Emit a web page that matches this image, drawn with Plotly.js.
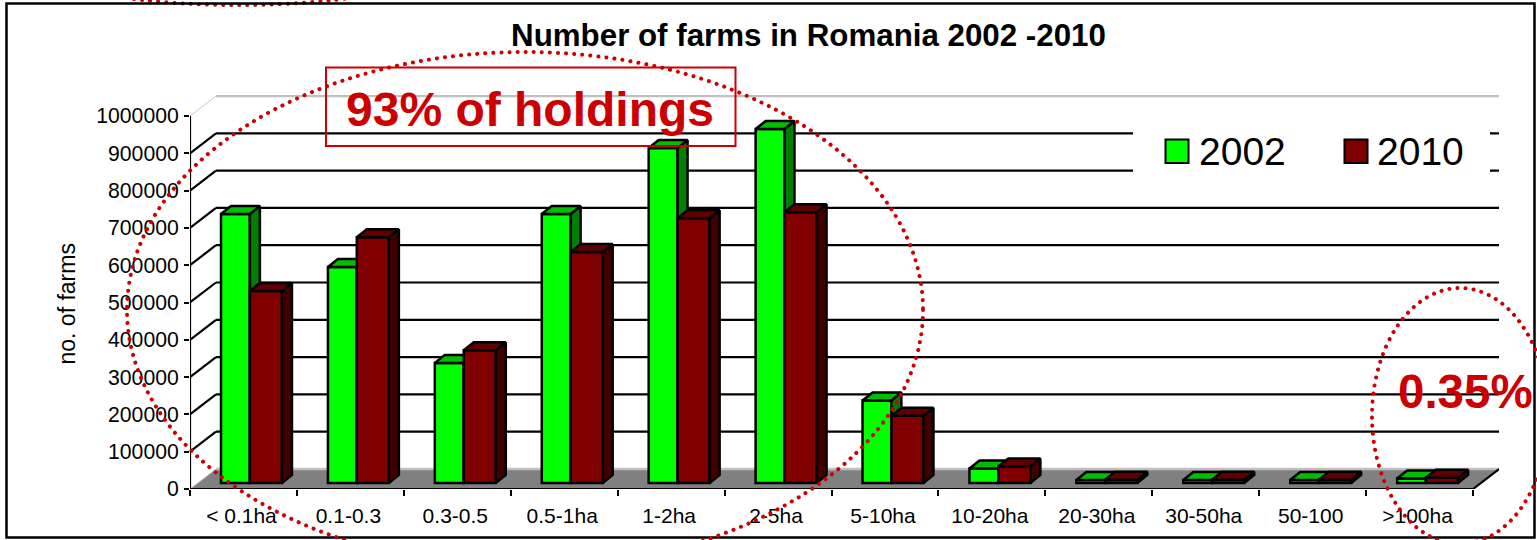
<!DOCTYPE html>
<html>
<head>
<meta charset="utf-8">
<script src="https://cdn.plot.ly/plotly-3.0.1.min.js"></script>
<style>html,body{margin:0;padding:0;background:#fff;overflow:hidden}#c{width:1537px;height:540px}
path[style*="0.1px"]{stroke-linecap:round}</style>
</head>
<body>
<div id="c"></div>
<script>
var categories = ['< 0.1ha','0.1-0.3','0.3-0.5','0.5-1ha','1-2ha','2-5ha','5-10ha','10-20ha','20-30ha','30-50ha','50-100','>100ha'];
var farms2002 = [721000,579000,322000,721000,898000,949000,221000,39000,8000,8000,8000,12000];
var farms2010 = [515000,659000,356000,619000,710000,726000,180000,44000,9000,9000,9000,14000];
var yTicks = [0,100000,200000,300000,400000,500000,600000,700000,800000,900000,1000000];
var seriesNames = ['2002','2010'];

var W=1537,H=540,L=190,T=95,R=1499,B=489;
var pxX=106.92, pxY=37.3/100000;
var xMax=(R-L)/pxX, yMax=(B-T)/pxY;
var wallDx=26/pxX, wallDy=20/pxY;
var barDx=10/pxX, barDy=8/pxY, barBase=6/pxY;
function px(x){return (x-L)/(R-L);}
function py(y){return (B-y)/(B-T);}
var black='#000';

function poly(xs,ys,fill,name,ax){return {type:'scatter',mode:'lines',x:xs,y:ys,fill:'toself',fillcolor:fill,
  line:{color:black,width:2.5},hoverinfo:'skip',showlegend:false,name:name,xaxis:ax[0],yaxis:ax[1],cliponaxis:false};}
function line(xs,ys,col,w){return {type:'scatter',mode:'lines',x:xs,y:ys,line:{color:col,width:w},hoverinfo:'skip',showlegend:false,cliponaxis:false};}

var traces=[];
traces.push({type:'scatter',mode:'lines',x:[0,wallDx,12+wallDx,12,0],y:[0,wallDy,wallDy,0,0],fill:'toself',fillcolor:'#808080',line:{width:0},hoverinfo:'skip',showlegend:false,cliponaxis:false});
yTicks.forEach(function(v){
  var light=(v===0||v===yTicks[yTicks.length-1]);
  traces.push(line([wallDx,12+wallDx],[v+wallDy,v+wallDy],light?'#c0c0c0':black,light?2.5:2.2));
  traces.push(line([0,wallDx],[v,v+wallDy],light?'#c8c8c8':black,light?1:2.2));
});
traces.push(line([12,12+wallDx],[0,wallDy],black,2.2));
traces.push(line([0,0],[0,yTicks[yTicks.length-1]],black,2.2));
traces.push(line([0,12],[0,0],black,2.2));

function addSeries(vals,name,offset,width,front,top,side,ax){
  var idx=vals.map(function(_,i){return i+offset;});
  traces.push({type:'bar',name:name,x:idx,y:vals,base:vals.map(function(){return barBase;}),width:width,
    marker:{color:front,line:{color:black,width:2.5}},xaxis:ax[0],yaxis:ax[1],showlegend:false,
    customdata:categories,hovertemplate:'%{customdata}: %{y}<extra>'+name+'</extra>'});
  var tx=[],ty=[],sx=[],sy=[];
  vals.forEach(function(v,i){
    var l=i+offset-width/2,r=i+offset+width/2,t=v+barBase;
    tx.push(l,l+barDx,r+barDx,r,l,null); ty.push(t,t+barDy,t+barDy,t,t,null);
    sx.push(r,r+barDx,r+barDx,r,r,null); sy.push(t,t+barDy,barBase+barDy,barBase,t,null);
  });
  traces.push(poly(sx,sy,side,name+' side',ax));
  traces.push(poly(tx,ty,top,name+' top',ax));
}
addSeries(farms2002,seriesNames[0],0.425,0.27,'#00FF00','#00BF00','#008000',['x2','y2']);
addSeries(farms2010,seriesNames[1],0.71,0.30,'#800000','#600000','#400000',['x3','y3']);

var xRange=[0,xMax],yRange=[0,yMax];
var centers=categories.map(function(_,i){return i+0.5;});
var edges=categories.map(function(_,i){return i;}).concat([categories.length]);
var hidden=function(m){return {range:m==='x'?xRange:yRange,visible:false,fixedrange:true,overlaying:m};};

var red='#CC0000';
var dot={color:red,width:4,dash:'0.1px,8px'};
function rect(x0,y0,x1,y1,o){return Object.assign({type:'rect',xref:'paper',yref:'paper',x0:px(x0),x1:px(x1),y0:py(y0),y1:py(y1),layer:'above'},o);}
var shapes=[
  rect(1133,124,1490,181,{fillcolor:'#fff',line:{width:0}}),
  {type:'circle',xref:'paper',yref:'paper',x0:px(58),x1:px(418),y0:py(-60),y1:py(5),line:dot,layer:'above'},
  rect(6.5,3.5,1534.5,537.5,{line:{color:black,width:2.5},fillcolor:'rgba(0,0,0,0)'}),
  rect(326,67.5,735.5,146,{line:{color:red,width:2},fillcolor:'rgba(0,0,0,0)'}),
  rect(1165.5,139.5,1188.5,163,{fillcolor:'#00FF00',line:{color:black,width:2}}),
  rect(1344.5,139.5,1367.5,163,{fillcolor:'#800000',line:{color:black,width:2}}),
  {type:'circle',xref:'paper',yref:'paper',x0:px(127),x1:px(923),y0:py(52),y1:py(568),line:dot,layer:'above'},
  {type:'circle',xref:'paper',yref:'paper',x0:px(1372),x1:px(1548),y0:py(288),y1:py(544),line:dot,layer:'above'}
];
function note(text,x,y,size,color,bold,extra){return Object.assign({text:bold?'<b>'+text+'</b>':text,xref:'paper',yref:'paper',x:px(x),y:py(y),showarrow:false,
  xanchor:'center',yanchor:'middle',font:{size:size,color:color,family:'"Liberation Sans",Arial,sans-serif'}},extra||{});}
var annotations=[
  note('93% of holdings',529.5,109,48,red,true),
  note('0.35%',1465,391,47.5,red,true),
  note(seriesNames[0],1242,151,39,black,false),
  note(seriesNames[1],1420.5,151,39,black,false),
  note('no. of farms',66,304.5,23,black,false,{textangle:-90})
];

var layout={
  width:W,height:H,autosize:false,showlegend:false,
  margin:{l:L,r:W-R,t:T,b:H-B,pad:0},
  paper_bgcolor:'#fff',plot_bgcolor:'rgba(0,0,0,0)',
  font:{family:'"Liberation Sans",Arial,sans-serif',color:black},
  title:{text:'<b>Number of farms in Romania 2002 -2010</b>',font:{size:31.3,color:black},x:808.5/W,xanchor:'center',y:1-35/H,yanchor:'middle'},
  barmode:'overlay',
  xaxis:{range:xRange,tickmode:'array',tickvals:centers,ticktext:categories,ticks:'',showgrid:false,zeroline:false,showline:false,
    tickfont:{size:21,color:black},fixedrange:true,ticklabelstandoff:12,ticklabelshift:-2,
    minor:{tickmode:'array',tickvals:edges,ticks:'outside',ticklen:6,tickwidth:2,tickcolor:black,showgrid:false}},
  yaxis:{range:yRange,tickmode:'array',tickvals:yTicks,ticktext:yTicks.map(String),ticks:'outside',ticklen:5,tickwidth:2,tickcolor:black,
    showgrid:false,zeroline:false,showline:false,tickfont:{size:21.2,color:black},fixedrange:true,ticklabelstandoff:1},
  xaxis2:hidden('x'),yaxis2:hidden('y'),xaxis3:hidden('x'),yaxis3:hidden('y'),
  shapes:shapes,annotations:annotations
};
Plotly.newPlot('c',traces,layout,{displayModeBar:false,staticPlot:true});
</script>
</body>
</html>
